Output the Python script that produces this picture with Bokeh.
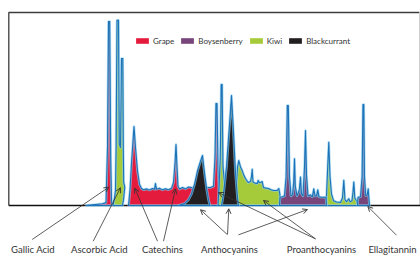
from bokeh.plotting import figure
from bokeh.models import Range1d, Legend, LegendItem, Arrow, OpenHead, Label
from bokeh.embed import file_html
from bokeh.resources import INLINE

# ---------------- data (retention time in min, signal in mAU) ----------------
fruits = ["Grape", "Boysenberry", "Kiwi", "Blackcurrant"]
fruit_colors = ["#E51B3D", "#77457A", "#A6CB3A", "#231F20"]

grape_gallic_t = [7.7, 8.7, 9.4, 9.75, 9.9, 10.0, 10.12, 10.22, 10.3, 10.35]
grape_gallic_h = [0, 0.5, 0.9, 1.5, 30, 95.3, 95.3, 25, 3, 0]

grape_cat_t = [12.0, 12.15, 12.3, 12.55, 12.7, 12.9, 13.1, 13.3, 13.5, 13.8, 14.1, 14.4,
               14.6, 14.7, 14.8, 15.1, 15.4, 15.7, 16.0, 16.3, 16.5, 16.65, 16.75, 16.85,
               16.95, 17.1, 17.4, 17.7, 18.0, 18.4, 18.8, 19.2, 19.7, 20.2, 20.5, 20.65,
               20.75, 20.85, 20.95, 21.05, 21.1]
grape_cat_h = [0, 8, 22, 40.9, 30, 18, 11, 8.8, 8.2, 8.6, 8.0, 8.8,
               8.4, 11.4, 8.4, 8.9, 8.1, 8.7, 8.2, 8.9, 12, 22, 31.6, 20,
               10, 8.5, 9.3, 8.6, 9.6, 9.2, 9.6, 9.8, 9.4, 9.3, 10, 25,
               52.8, 52.8, 20, 9, 0]

kiwi_asc_t = [10.45, 10.6, 10.7, 10.76, 10.85, 11.0, 11.08, 11.2, 11.3, 11.43, 11.48,
              11.52, 11.63, 11.5, 11.4]
kiwi_asc_h = [0, 4, 8, 30, 95.9, 95.9, 32, 30, 76.2, 76.2, 30, 12, 9.5, 3, 0]

kiwi_mid_t = [20.95, 21.05, 21.18, 21.27, 21.36, 21.45, 21.6, 21.9, 22.4, 22.8, 22.9,
              23.03, 23.2, 23.37, 23.55, 23.7, 23.85, 24.0, 24.2, 24.3, 24.37, 24.45,
              24.65, 24.87, 24.97, 25.08, 25.2, 25.37, 25.5, 25.75, 26.0, 26.25, 26.5,
              26.87, 27.03, 27.13, 27.2]
kiwi_mid_h = [0, 9, 25, 62.7, 62.7, 20, 12, 11, 11, 12, 20,
              23.3, 20, 18.1, 15.5, 14.0, 12.8, 11.9, 12.5, 15, 18.7, 12.2,
              11.6, 11.4, 13.0, 11.8, 11.9, 12.4, 9.3, 9.0, 8.8, 8.2, 7.8,
              7.8, 8.8, 6, 0]

kiwi_late_t = [31.75, 31.8, 31.92, 32.03, 32.15, 32.3, 32.5, 32.8, 33.2, 33.4, 33.53,
               33.65, 33.8, 34.03, 34.15, 34.35, 34.45, 34.53, 34.63, 34.8, 34.95]
kiwi_late_h = [0, 5, 20, 32.8, 15, 6, 2.5, 1.8, 1.6, 4, 13,
               3, 2, 3.5, 2, 2.5, 7, 12.1, 4, 2.5, 0]

boys_early_t = [27.1, 27.15, 27.4, 27.6, 27.76, 27.88, 27.98, 28.1, 28.25, 28.4, 28.52,
                28.6, 28.68, 28.85, 29.08, 29.2, 29.3, 29.45, 29.6, 29.7, 29.8, 29.95,
                30.2, 30.38, 30.53, 30.65, 30.8, 30.93, 31.05, 31.3, 31.75, 31.8]
boys_early_h = [0, 4.3, 4.5, 5, 15, 51.8, 51.8, 15, 5, 5.5, 12,
                24.2, 10, 5, 8, 14.7, 6, 5, 20, 38.9, 16, 5,
                5.5, 4.5, 8.6, 5, 5, 8.1, 4.5, 4.3, 4.3, 0]

boys_late_t = [34.9, 34.95, 35.2, 35.36, 35.45, 35.53, 35.6, 35.72, 35.87, 35.97, 36.05, 36.1]
boys_late_h = [0, 4.3, 4.5, 15, 52.3, 52.3, 15, 5.2, 5.5, 8.6, 3, 0]

black_a_t = [17.0, 17.6, 18.0, 18.3, 18.6, 18.9, 19.2, 19.4, 19.6, 19.8, 20.0, 20.15]
black_a_h = [0, 1, 3, 6, 11, 18, 23, 25.9, 17, 9, 3, 0]

black_b_t = [21.3, 21.5, 21.8, 22.1, 22.3, 22.5, 22.7, 22.9, 23.0]
black_b_h = [0, 6, 20, 42, 57, 38, 17, 4, 0]

compounds = ["Gallic Acid", "Ascorbic Acid", "Catechins", "Anthocyanins",
             "Proanthocyanins", "Ellagitannin"]

# ---------------- figure ----------------
p = figure(width=420, height=257, x_range=Range1d(-0.8, 41.2), y_range=Range1d(-26.94, 106.22),
           output_backend="svg", toolbar_location=None, min_border=0,
           x_axis_location=None, y_axis_location=None, outline_line_color=None)
p.background_fill_color = "white"
p.border_fill_color = "white"
p.grid.visible = False

# frame lines
p.line([0.03, 0.03, 41.1], [0, 100, 100], line_color="#3c3c3c", line_width=1.3)
p.line([41.1, 41.1], [0, 100], line_color="#cfcfcf", line_width=1)
p.line([0.03, 41.2], [0, 0], line_color="#111111", line_width=1.3)

BLUE = "#1B72B8"
HALO = "#8FCFEE"

def closed(ts, hs):
    return list(ts) + [ts[0]], list(hs) + [hs[0]]

groups = [
    (0, [(grape_gallic_t, grape_gallic_h), (grape_cat_t, grape_cat_h)]),
    (2, [(kiwi_asc_t, kiwi_asc_h), (kiwi_mid_t, kiwi_mid_h), (kiwi_late_t, kiwi_late_h)]),
    (1, [(boys_early_t, boys_early_h), (boys_late_t, boys_late_h)]),
    (3, [(black_a_t, black_a_h), (black_b_t, black_b_h)]),
]

renderers = {}
for idx, polys in groups:
    xs = [list(t) for t, h in polys]
    ys = [list(h) for t, h in polys]
    r = p.patches(xs, ys, fill_color=fruit_colors[idx], line_alpha=0)
    renderers[idx] = r
    lx = [closed(t, h)[0] for t, h in polys]
    ly = [closed(t, h)[1] for t, h in polys]
    p.multi_line(lx, ly, line_color=HALO, line_width=2.6, line_alpha=0.7, line_join="round")
    p.multi_line(lx, ly, line_color=BLUE, line_width=1.1, line_join="round")

legend = Legend(items=[LegendItem(label=fruits[i], renderers=[renderers[i]]) for i in range(4)],
                orientation="horizontal", location=(134, 211.5),
                glyph_width=16, glyph_height=7, label_height=9, label_width=10,
                label_standoff=3, spacing=5, padding=0, margin=0,
                border_line_alpha=0, background_fill_alpha=0,
                label_text_font="Lato", label_text_font_size="8px", label_text_color="#333333")
p.add_layout(legend)

# compound labels and arrows
label_t = [2.45, 9.1, 15.4, 22.1, 31.3, 38.4]
for name, t in zip(compounds, label_t):
    p.add_layout(Label(x=t, y=-22.8, text=name, text_align="center", text_baseline="middle",
                       text_font="Lato", text_font_size="9.5px", text_color="#333333"))

arrows = [
    (2.37, -17.6, 10.03, 9.5),
    (8.47, -18.5, 11.2, 9.2),
    (14.9, -18.5, 12.63, 9.0),
    (15.5, -18.5, 16.7, 8.6),
    (21.87, -15.0, 19.2, -2.2),
    (21.9, -15.0, 22.03, -1.7),
    (30.7, -17.3, 21.0, 6.7),
    (30.7, -17.3, 25.5, 2.6),
    (23.0, -15.2, 29.9, -2.1),
    (38.8, -15.4, 35.93, -0.5),
]
for x0, y0, x1, y1 in arrows:
    p.add_layout(Arrow(end=OpenHead(size=5, line_color="#333333", line_width=0.9),
                       x_start=x0, y_start=y0, x_end=x1, y_end=y1,
                       line_color="#333333", line_width=0.8))

open("out.html", "w").write(file_html(p, INLINE))
